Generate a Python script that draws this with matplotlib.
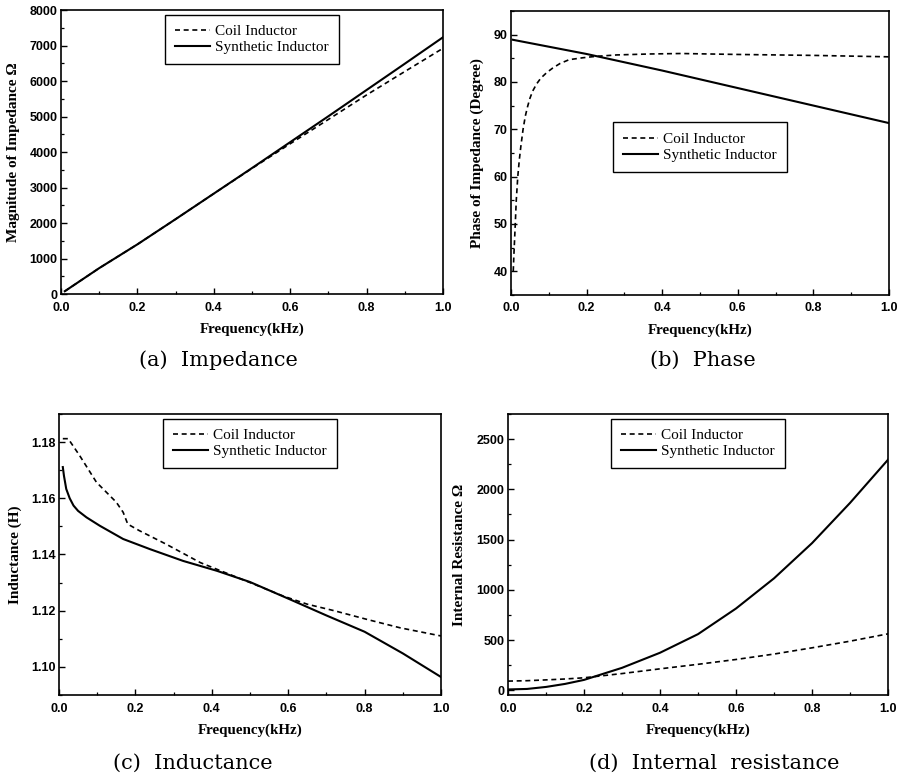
#!/usr/bin/env python3
"""Coil vs synthetic inductor: impedance, phase, inductance and internal resistance."""

import matplotlib as mpl
import matplotlib.pyplot as plt
from matplotlib.ticker import FormatStrFormatter, MultipleLocator

# --- data ------------------------------------------------------------------
# (a) magnitude of impedance, ohm
freq_imp = [0.01, 0.1, 0.2, 0.3, 0.4, 0.5, 0.6, 0.7, 0.8, 0.9, 1.0]
syn_imp = [80, 730, 1400, 2110, 2830, 3550, 4280, 5010, 5750, 6490, 7235]
coil_imp = [80, 730, 1400, 2110, 2830, 3540, 4235, 4920, 5610, 6270, 6925]

# (b) phase of impedance, degree
freq_ph_coil = [0.006, 0.008, 0.011, 0.014, 0.018, 0.022, 0.026, 0.032, 0.038,
                0.044, 0.05, 0.057, 0.068, 0.079, 0.095, 0.11, 0.13, 0.154,
                0.19, 0.225, 0.28, 0.367, 0.45, 0.6, 0.8, 1.0]
coil_ph = [40.0, 44.0, 49.3, 55.0, 60.0, 63.5, 66.3, 70.0, 72.8, 74.8, 76.5,
           78.0, 79.6, 80.8, 82.0, 82.9, 83.9, 84.7, 85.1, 85.4, 85.7, 85.9,
           86.0, 85.8, 85.6, 85.3]
freq_ph_syn = [0.005, 0.2, 0.4, 0.6, 0.8, 1.0]
syn_ph = [88.9, 85.9, 82.4, 78.7, 75.0, 71.3]

# (c) inductance, H
freq_l_coil = [0.01, 0.024, 0.054, 0.098, 0.15, 0.168, 0.18, 0.21, 0.28, 0.37,
               0.5, 0.587, 0.65, 0.72, 0.806, 0.893, 1.0]
coil_l = [1.1812, 1.1812, 1.1752, 1.1657, 1.1586, 1.1550, 1.1508, 1.1485,
          1.1437, 1.1371, 1.1300, 1.1252, 1.1223, 1.1200, 1.1169, 1.1139, 1.1110]
freq_l_syn = [0.01, 0.013, 0.019, 0.028, 0.038, 0.05, 0.072, 0.107, 0.168,
              0.238, 0.325, 0.413, 0.5, 0.605, 0.7, 0.8, 0.9, 1.0]
syn_l = [1.1711, 1.1680, 1.1633, 1.1600, 1.1574, 1.1555, 1.1532, 1.1502,
         1.1455, 1.1419, 1.1377, 1.1342, 1.1302, 1.1240, 1.1183, 1.1125,
         1.1048, 1.0964]

# (d) internal resistance, ohm
freq_res = [0.0, 0.05, 0.1, 0.15, 0.2, 0.3, 0.4, 0.5, 0.6, 0.7, 0.8, 0.9, 1.0]
syn_res = [10, 15, 35, 65, 105, 225, 375, 560, 815, 1115, 1465, 1865, 2295]
coil_res = [93, 97, 105, 114, 126, 168, 215, 260, 308, 362, 424, 490, 563]

LABEL_COIL = "Coil Inductor"
LABEL_SYN = "Synthetic Inductor"
X_LABEL = "Frequency(kHz)"
CAPTIONS = ["(a)  Impedance", "(b)  Phase", "(c)  Inductance",
            "(d)  Internal  resistance"]

# --- style -----------------------------------------------------------------
SERIF = "Liberation Serif"
SANS = "Liberation Sans"
COIL_STYLE = dict(color="black", linewidth=1.2, linestyle=(0, (3, 2.2)))
SYN_STYLE = dict(color="black", linewidth=1.5, linestyle="-")

mpl.rcParams.update({
    "font.family": SANS,
    "axes.linewidth": 1.2,
    "xtick.direction": "in",
    "ytick.direction": "in",
    "xtick.major.size": 4,
    "ytick.major.size": 4,
    "xtick.minor.size": 2.5,
    "ytick.minor.size": 2.5,
    "xtick.major.width": 1.0,
    "ytick.major.width": 1.0,
    "xtick.minor.width": 0.9,
    "ytick.minor.width": 0.9,
})


def style_axes(ax, ylim, ymajor, yfmt, ylabel, ylabel_x):
    ax.set_xlim(0.0, 1.0)
    ax.set_ylim(*ylim)
    ax.xaxis.set_major_locator(MultipleLocator(0.2))
    ax.xaxis.set_minor_locator(MultipleLocator(0.1))
    ax.xaxis.set_major_formatter(FormatStrFormatter("%.1f"))
    ax.yaxis.set_major_locator(MultipleLocator(ymajor))
    ax.yaxis.set_minor_locator(MultipleLocator(ymajor / 2))
    ax.yaxis.set_major_formatter(FormatStrFormatter(yfmt))
    ax.tick_params(axis="x", which="major", pad=5.5)
    ax.tick_params(axis="y", which="major", pad=2.5)
    for lab in ax.get_xticklabels() + ax.get_yticklabels():
        lab.set_fontfamily(SANS)
        lab.set_fontweight("bold")
        lab.set_fontsize(9)
    ax.set_xlabel(X_LABEL, fontfamily=SERIF, fontweight="bold", fontsize=10.8)
    ax.xaxis.set_label_coords(0.5, -0.1)
    ax.set_ylabel(ylabel, fontfamily=SERIF, fontweight="bold", fontsize=11)
    # label coords give the right edge of the rotated label
    ax.yaxis.set_label_coords(ylabel_x, 0.5)


def add_legend(ax, **kw):
    ax.legend(prop={"family": SERIF, "size": 11}, frameon=True, fancybox=False,
              edgecolor="black", framealpha=1.0, borderpad=0.65,
              handlelength=2.3, handletextpad=0.3, labelspacing=0.15,
              borderaxespad=0.3, **kw).get_frame().set_linewidth(1.0)


fig = plt.figure(figsize=(9.02, 7.80), dpi=100)
ax_a = fig.add_axes([0.0676, 0.623, 0.4235, 0.364])
ax_b = fig.add_axes([0.5665, 0.622, 0.419, 0.364])
ax_c = fig.add_axes([0.0654, 0.109, 0.4235, 0.3603])
ax_d = fig.add_axes([0.5632, 0.109, 0.4213, 0.3603])

# (a) impedance
ax_a.plot(freq_imp, coil_imp, label=LABEL_COIL, **COIL_STYLE)
ax_a.plot(freq_imp, syn_imp, label=LABEL_SYN, **SYN_STYLE)
style_axes(ax_a, (0, 8000), 1000, "%d", "Magnitude of Impedance Ω", -0.107)
add_legend(ax_a, loc="upper center")

# (b) phase
ax_b.plot(freq_ph_coil, coil_ph, label=LABEL_COIL, **COIL_STYLE)
ax_b.plot(freq_ph_syn, syn_ph, label=LABEL_SYN, **SYN_STYLE)
style_axes(ax_b, (35, 95), 10, "%d", "Phase of Impedance (Degree)", -0.071)
add_legend(ax_b, loc="center", bbox_to_anchor=(0.5, 0.52))

# (c) inductance
ax_c.plot(freq_l_coil, coil_l, label=LABEL_COIL, **COIL_STYLE)
ax_c.plot(freq_l_syn, syn_l, label=LABEL_SYN, **SYN_STYLE)
style_axes(ax_c, (1.09, 1.19), 0.02, "%.2f", "Inductance (H)", -0.097)
add_legend(ax_c, loc="upper center")

# (d) internal resistance
ax_d.plot(freq_res, coil_res, label=LABEL_COIL, **COIL_STYLE)
ax_d.plot(freq_res, syn_res, label=LABEL_SYN, **SYN_STYLE)
style_axes(ax_d, (-45, 2750), 500, "%d", "Internal Resistance Ω", -0.11)
add_legend(ax_d, loc="upper center")

# sub-figure captions, placed in pixel terms of the 902x780 canvas
for text, (px, py) in zip(CAPTIONS, [(218, 360), (703, 360), (193, 763), (714, 763)]):
    fig.text(px / 902, 1 - py / 780, text, ha="center", va="center",
             fontfamily="DejaVu Serif", fontsize=15)

fig.savefig("out.png", dpi=100)
